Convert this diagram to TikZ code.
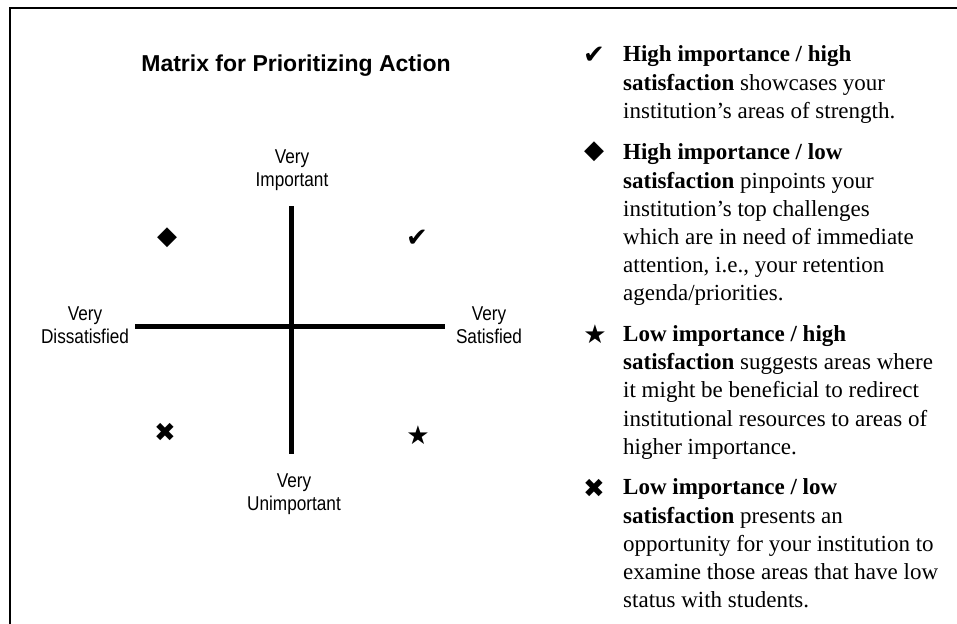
\documentclass[tikz,border=0pt]{standalone}
\usepackage{fontspec}
\setmainfont{Liberation Serif}
\newfontfamily\labelfont[FakeStretch=0.86]{Liberation Sans}
\newfontfamily\titlefont{Liberation Sans}
\newfontfamily\symfont{DejaVu Sans}
\begin{document}
\begin{tikzpicture}[x=1pt,y=-1pt,
  lbl/.style={align=center,inner sep=0pt,font=\labelfont\fontsize{20}{23}\selectfont},
  sym/.style={inner sep=0pt,font=\symfont\fontsize{26}{26}\selectfont},
  item/.style={anchor=north west,align=left,inner sep=0pt,font=\fontsize{23}{28.2}\selectfont}]
\useasboundingbox (0,0) rectangle (957,623);
% frame
\draw[line width=2.5pt] (10,640) -- (10,8) -- (970,8);
% matrix
\node (title) at (296,66) [inner sep=0pt,font=\titlefont\bfseries\fontsize{23}{23}\selectfont] {Matrix for Prioritizing Action};
\coordinate (top) at (291,206);
\coordinate (bot) at (291,454);
\coordinate (lft) at (135,326);
\coordinate (rgt) at (445,326);
\draw[line width=5pt] (top) -- (bot);
\draw[line width=5pt] (lft) -- (rgt);
\node (imp) at (292,170) [lbl] {Very\\Important};
\node (unimp) at (294,494) [lbl] {Very\\Unimportant};
\node (dis) at (85,325) [lbl] {Very\\Dissatisfied};
\node (sat) at (489,325) [lbl] {Very\\Satisfied};
\node (q1) at (417,238) [sym] {✔};
\node (q2) at (167,238) [sym] {◆};
\node (q3) at (418,435) [sym] {★};
\node (q4) at (165,432) [sym] {✖};
% legend
\node (b1) at (594,55) [sym] {✔};
\node (t1) at (623,45.8) [item] {\textbf{High importance / high}\\
  \textbf{satisfaction} showcases your\\
  institution’s areas of strength.};
\node (b2) at (594,152) [sym] {◆};
\node (t2) at (623,143.8) [item] {\textbf{High importance / low}\\
  \textbf{satisfaction} pinpoints your\\
  institution’s top challenges\\
  which are in need of immediate\\
  attention, i.e., your retention\\
  agenda/priorities.};
\node (b3) at (595,334) [sym] {★};
\node (t3) at (623,325.3) [item] {\textbf{Low importance / high}\\
  \textbf{satisfaction} suggests areas where\\
  it might be beneficial to redirect\\
  institutional resources to areas of\\
  higher importance.};
\node (b4) at (594,488) [sym] {✖};
\node (t4) at (623,478.8) [item] {\textbf{Low importance / low}\\
  \textbf{satisfaction} presents an\\
  opportunity for your institution to\\
  examine those areas that have low\\
  status with students.};
\end{tikzpicture}
\end{document}
